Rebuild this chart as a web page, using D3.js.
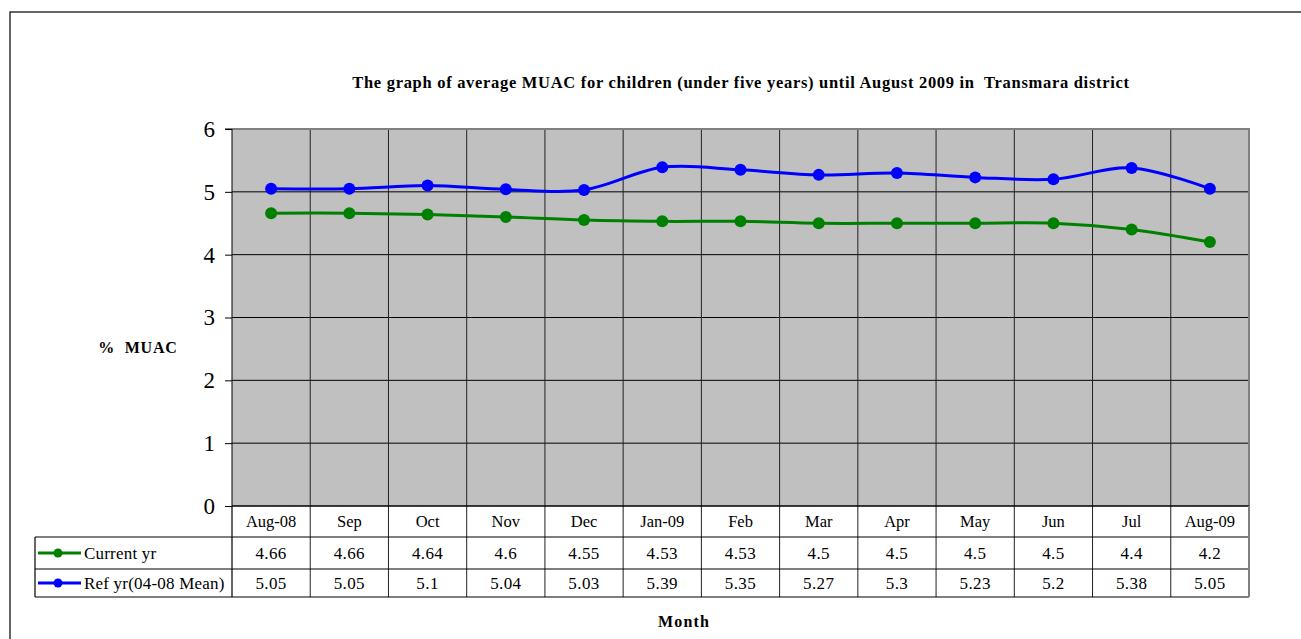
<!DOCTYPE html>
<html><head><meta charset="utf-8">
<script src="https://cdn.jsdelivr.net/npm/d3@7"></script>
<style>body{margin:0;background:#fff}svg{display:block;font-family:"Liberation Serif","Times New Roman",serif}</style>
</head><body><svg id="c" width="1301" height="639"></svg>
<script>
const categories = ["Aug-08","Sep","Oct","Nov","Dec","Jan-09","Feb","Mar","Apr","May","Jun","Jul","Aug-09"];
const currentYr = [4.66,4.66,4.64,4.6,4.55,4.53,4.53,4.5,4.5,4.5,4.5,4.4,4.2];
const refYr = [5.05,5.05,5.1,5.04,5.03,5.39,5.35,5.27,5.3,5.23,5.2,5.38,5.05];
const yTicks = [0,1,2,3,4,5,6];
const seriesNames = ["Current yr","Ref yr(04-08 Mean)"];
const seriesColors = ["#008000","#0000ff"];
const titleText = "The graph of average MUAC for children (under five years) until August 2009 in  Transmara district";

const svg = d3.select("#c");
const L=232, R=1249, T=129, B=506;
const rowH=[31,32,28];
const legL=35;

// outer border
svg.append("rect").attr("x",10).attr("y",12).attr("width",1300).attr("height",640)
  .attr("fill","none").attr("stroke","#000").attr("stroke-width",1.2);

const x = d3.scaleBand().domain(categories).range([L,R]).padding(0);
const y = d3.scaleLinear().domain([0,6]).range([B,T]);

// plot bg
svg.append("rect").attr("x",L).attr("y",T).attr("width",R-L).attr("height",B-T).attr("fill","#c0c0c0");

// horizontal gridlines
svg.append("g").selectAll("line").data(yTicks.slice(1,-1)).join("line")
  .attr("x1",L).attr("x2",R).attr("y1",d=>y(d)).attr("y2",d=>y(d)).attr("stroke","#000").attr("stroke-width",1);
// vertical gridlines
svg.append("g").selectAll("line").data(categories.slice(1)).join("line")
  .attr("x1",d=>x(d)).attr("x2",d=>x(d)).attr("y1",T).attr("y2",B+rowH[0]+rowH[1]+rowH[2]).attr("stroke","#222").attr("stroke-width",1);
// plot border top/right gray
svg.append("path").attr("d",`M${L},${T}H${R}V${B}`).attr("fill","none").attr("stroke","#808080").attr("stroke-width",2);

// y axis
const yAxis = d3.axisLeft(y).tickValues(yTicks).tickSize(7).tickPadding(10).tickFormat(d3.format("d"));
const ga = svg.append("g").attr("transform",`translate(${L},0)`).call(yAxis);
ga.attr("font-family",null).attr("font-size",null);
ga.select(".domain").attr("stroke","#000").attr("d",`M-7,${T}H0V${B}`);
ga.selectAll(".tick line").attr("stroke","#000");
ga.selectAll("text").style("font-size","23px").style("font-family","'Liberation Serif', serif").attr("fill","#000").attr("dy","0.32em");

// lines
const line = d3.line().x((d,i)=>x(categories[i])+x.bandwidth()/2).y(d=>y(d)).curve(d3.curveCatmullRom.alpha(0));
[currentYr, refYr].forEach((s,k)=>{
  svg.append("path").datum(s).attr("d",line).attr("fill","none").attr("stroke",seriesColors[k]).attr("stroke-width",3);
  svg.append("g").selectAll("circle").data(s).join("circle")
    .attr("cx",(d,i)=>x(categories[i])+x.bandwidth()/2).attr("cy",d=>y(d)).attr("r",6).attr("fill",seriesColors[k]);
});

// data table
const tb = svg.append("g");
const y0=B, y1=B+rowH[0], y2=y1+rowH[1], y3=y2+rowH[2];
tb.append("line").attr("x1",L).attr("x2",R).attr("y1",y0).attr("y2",y0).attr("stroke","#000").attr("stroke-width",1.5);
[y1,y2,y3].forEach(yy=>tb.append("line").attr("x1",legL).attr("x2",R).attr("y1",yy).attr("y2",yy).attr("stroke","#000").attr("stroke-width",1.2));
tb.append("line").attr("x1",legL).attr("x2",legL).attr("y1",y1).attr("y2",y3).attr("stroke","#000").attr("stroke-width",1.2);
tb.append("line").attr("x1",L).attr("x2",L).attr("y1",B).attr("y2",y3).attr("stroke","#000").attr("stroke-width",1.2);
tb.append("line").attr("x1",R).attr("x2",R).attr("y1",B).attr("y2",y3).attr("stroke","#808080").attr("stroke-width",2);

tb.selectAll(".cat").data(categories).join("text")
  .attr("x",d=>x(d)+x.bandwidth()/2).attr("y",(y0+y1)/2).attr("dy","0.35em")
  .attr("text-anchor","middle").attr("font-size",16.5).text(d=>d);
[currentYr, refYr].forEach((s,k)=>{
  const ry=[ (y1+y2)/2, (y2+y3)/2 ][k];
  tb.append("g").selectAll("text").data(s).join("text")
    .attr("x",(d,i)=>x(categories[i])+x.bandwidth()/2).attr("y",ry).attr("dy","0.35em")
    .attr("text-anchor","middle").attr("font-size",17).attr("letter-spacing",0.4).text(d=>d);
  tb.append("line").attr("x1",38).attr("x2",81).attr("y1",ry).attr("y2",ry).attr("stroke",seriesColors[k]).attr("stroke-width",3);
  tb.append("circle").attr("cx",58).attr("cy",ry).attr("r",4.5).attr("fill",seriesColors[k]);
  tb.append("text").attr("x",84).attr("y",ry).attr("dy","0.35em").attr("font-size",17).attr("letter-spacing",0.2)
    .style("white-space","pre").text(seriesNames[k]);
});

// titles
svg.append("text").attr("x",741).attr("y",88).attr("text-anchor","middle").attr("font-size",16.5).attr("font-weight","bold")
  .attr("letter-spacing",0.7).style("white-space","pre").text(titleText);
svg.append("text").attr("x",138).attr("y",353).attr("text-anchor","middle").attr("font-size",16).attr("font-weight","bold")
  .attr("letter-spacing",0.8).style("white-space","pre").text("%  MUAC");
svg.append("text").attr("x",684).attr("y",627).attr("text-anchor","middle").attr("font-size",16).attr("font-weight","bold")
  .attr("letter-spacing",1.2).text("Month");
</script></body></html>
